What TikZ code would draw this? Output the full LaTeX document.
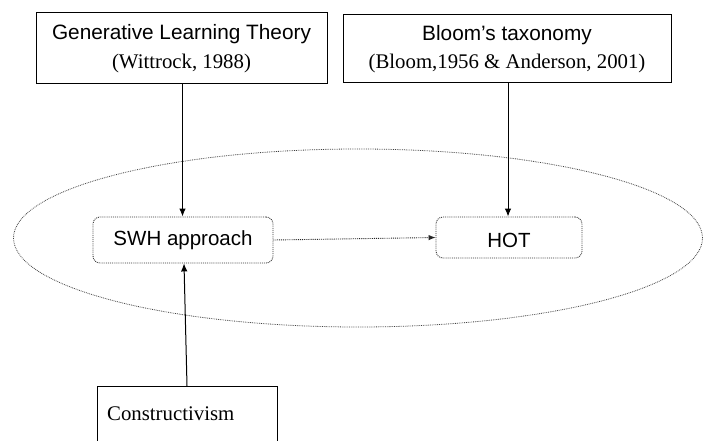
\documentclass[tikz,border=0pt]{standalone}
\usepackage{fontspec}
\setmainfont{Liberation Serif}
\newfontfamily\arialf{Liberation Sans}
\usetikzlibrary{arrows.meta,shapes.geometric}
\begin{document}
\begin{tikzpicture}[x=1pt,y=-1pt,
  solidbox/.style={draw=black,line width=1pt,rectangle,inner sep=0pt,align=center,
    font=\fontsize{20.8}{28.5}\selectfont},
  dotbox/.style={draw=black!80,line width=0.9pt,densely dotted,rounded corners=7pt,rectangle,
    inner sep=0pt,font=\arialf\fontsize{20.5}{24}\selectfont},
  arr/.style={-{Latex[length=8pt,width=6.5pt]},line width=1pt,black},
  dotarr/.style={-{Latex[length=7pt,width=5.5pt]},line width=0.9pt,black!85,densely dotted}]
\useasboundingbox (0,0) rectangle (703,441);
% ellipse
\node[ellipse,draw=black!75,line width=0.8pt,densely dotted,minimum width=689pt,minimum height=178pt,inner sep=0pt] (ell) at (358,238) {};
% top boxes
\node[solidbox,minimum width=291pt,minimum height=71pt] (glt) at (181.5,48.5)
  {{\arialf Generative Learning Theory}\\(Wittrock, 1988)};
\node[solidbox,minimum width=328pt,minimum height=68pt] (bloom) at (507,49)
  {{\arialf Bloom’s taxonomy}\\(Bloom,1956 \& Anderson, 2001)};
% inner boxes
\node[dotbox,minimum width=180pt,minimum height=46pt] (swh) at (183,240) {SWH approach};
\node[dotbox,minimum width=146pt,minimum height=41pt,text depth=0pt] (hot) at (509,237.5) {\raisebox{-6pt}{HOT}};
% constructivism box
\node[draw=black,line width=1pt,rectangle,inner sep=0pt,anchor=north west,minimum width=180pt,minimum height=80pt] (cons) at (97,386) {};
\node[anchor=base west,inner sep=0pt,font=\fontsize{20.8}{24}\selectfont] (constxt) at (107,420) {Constructivism};
\coordinate (consTop) at (187,386);
% connectors
\draw[arr] (glt.south -| 182.5,0) -- (swh.north -| 182.5,0);
\draw[arr] (bloom.south -| 508,0) -- (hot.north -| 508,0);
\draw[arr] (consTop) -- (swh.south -| 184,0);
\draw[dotarr] (swh.east) -- (hot.west);
\end{tikzpicture}
\end{document}
